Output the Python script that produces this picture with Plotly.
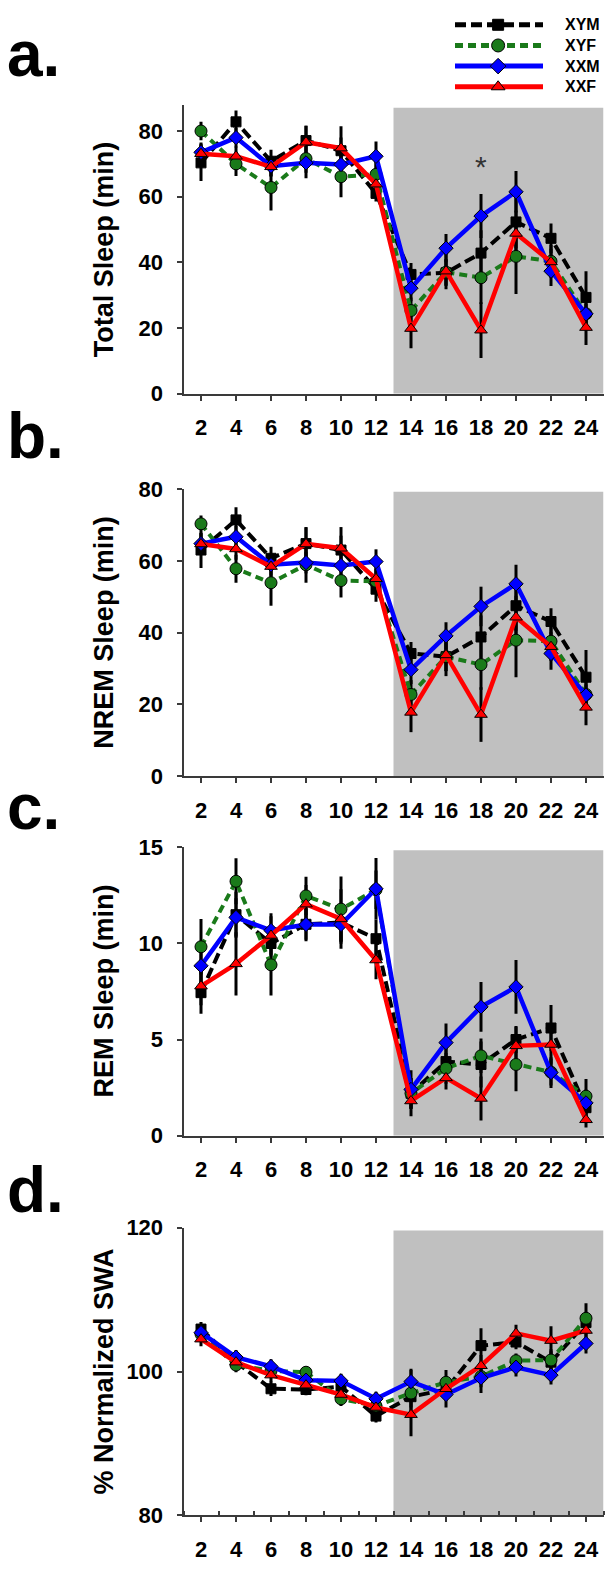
import plotly.graph_objects as go

# ---------------- data ----------------
hours = [2, 4, 6, 8, 10, 12, 14, 16, 18, 20, 22, 24]
series_names = ["XYM", "XYF", "XXM", "XXF"]

# a. Total sleep (min)
total_xym = [70.3, 82.8, 70.8, 77.1, 74.0, 61.0, 36.3, 36.8, 42.8, 52.3, 47.3, 29.3]
total_xyf = [80.0, 70.0, 62.8, 71.6, 66.1, 66.8, 25.3, 37.0, 35.3, 41.8, 40.3, 24.3]
total_xxm = [73.5, 78.0, 69.3, 70.3, 69.8, 72.3, 32.1, 44.3, 54.1, 61.5, 37.3, 24.3]
total_xxf = [73.1, 72.3, 69.1, 76.6, 74.8, 63.8, 19.8, 37.3, 19.3, 48.8, 40.1, 20.1]
total_xym_err = [5.5, 3.5, 3.5, 4.5, 4.0, 2.5, 3.5, 4.0, 7.0, 8.0, 4.5, 8.0]
total_xyf_err = [2.8, 3.7, 7.0, 6.0, 6.3, 4.0, 4.0, 4.0, 8.0, 11.5, 5.0, 4.0]
total_xxm_err = [3.0, 3.0, 3.0, 3.0, 3.5, 4.5, 4.0, 4.3, 6.7, 6.3, 4.5, 3.0]
total_xxf_err = [3.0, 3.0, 3.0, 5.0, 6.7, 4.0, 6.0, 5.5, 8.5, 7.0, 4.0, 5.3]

# b. NREM sleep (min)
nrem_xym = [63.0, 71.4, 60.7, 64.8, 63.0, 52.1, 34.2, 33.3, 38.8, 47.5, 43.1, 27.6]
nrem_xyf = [70.3, 57.8, 53.9, 58.9, 54.5, 54.3, 22.8, 33.3, 31.1, 37.9, 37.6, 22.8]
nrem_xxm = [64.8, 66.7, 58.9, 59.5, 58.7, 59.8, 29.7, 39.1, 47.3, 53.6, 34.2, 22.6]
nrem_xxf = [64.7, 63.3, 58.4, 64.7, 63.5, 55.0, 17.8, 33.8, 17.2, 44.3, 36.1, 19.2]
nrem_xym_err = [5.0, 3.5, 3.2, 4.6, 4.0, 3.5, 3.2, 4.0, 6.0, 7.0, 3.7, 7.6]
nrem_xyf_err = [2.3, 3.9, 6.4, 5.0, 4.7, 3.5, 4.0, 4.0, 7.0, 10.3, 4.0, 4.0]
nrem_xxm_err = [3.0, 3.0, 3.0, 3.0, 3.0, 3.4, 4.0, 3.8, 5.5, 5.3, 4.5, 3.0]
nrem_xxf_err = [3.0, 3.0, 3.0, 4.6, 5.9, 3.0, 5.5, 5.9, 7.6, 6.0, 4.0, 5.0]

# c. REM sleep (min)
rem_xym = [7.44, 11.5, 10.0, 11.0, 11.1, 10.25, 2.2, 3.85, 3.7, 5.0, 5.6, 1.45]
rem_xyf = [9.83, 13.24, 8.89, 12.48, 11.79, 12.8, 2.2, 3.5, 4.15, 3.7, 3.3, 2.05]
rem_xxm = [8.84, 11.36, 10.68, 10.99, 10.99, 12.85, 2.4, 4.84, 6.7, 7.74, 3.28, 1.7]
rem_xxf = [7.78, 8.94, 10.42, 12.05, 11.28, 9.14, 1.8, 3.0, 1.93, 4.67, 4.74, 0.82]
rem_xym_err = [1.1, 1.2, 1.0, 0.8, 1.0, 1.0, 0.8, 0.8, 1.2, 0.7, 1.2, 0.8]
rem_xyf_err = [1.45, 1.2, 1.6, 1.0, 1.7, 1.0, 0.8, 0.8, 0.9, 1.4, 0.7, 0.9]
rem_xxm_err = [1.0, 1.0, 0.9, 0.87, 1.0, 1.6, 1.0, 1.0, 1.3, 1.4, 0.8, 0.7]
rem_xxf_err = [1.0, 1.65, 1.0, 1.0, 1.55, 1.0, 0.8, 0.6, 1.15, 1.0, 1.0, 0.4]

# d. % Normalized SWA
swa_xym = [105.9, 101.3, 97.6, 97.5, 97.9, 93.8, 96.5, 97.5, 103.6, 104.1, 101.3, 106.8]
swa_xyf = [105.2, 100.9, 100.1, 99.9, 96.2, 95.2, 97.0, 98.5, 99.3, 101.5, 101.6, 107.4]
swa_xxm = [105.4, 102.0, 100.7, 98.8, 98.7, 96.2, 98.6, 96.8, 99.1, 100.6, 99.5, 103.9]
swa_xxf = [104.5, 101.3, 99.5, 98.1, 96.8, 95.0, 94.0, 97.6, 100.8, 105.3, 104.3, 105.7]
swa_xym_err = [1.0, 1.0, 1.0, 0.8, 1.0, 0.9, 1.5, 1.5, 2.4, 1.0, 1.5, 1.5]
swa_xyf_err = [1.0, 1.0, 1.0, 0.8, 1.0, 1.0, 3.2, 1.7, 1.5, 1.0, 1.5, 2.1]
swa_xxm_err = [1.0, 1.0, 1.0, 1.0, 1.0, 1.0, 1.8, 1.8, 2.1, 1.3, 1.3, 1.4]
swa_xxf_err = [1.0, 1.0, 1.0, 1.0, 1.0, 1.0, 3.0, 1.5, 1.5, 1.2, 2.0, 1.5]

panel_letters = ["a.", "b.", "c.", "d."]
y_titles = ["Total Sleep (min)", "NREM Sleep (min)", "REM Sleep (min)", "% Normalized SWA"]
y_ranges = [[0, 88], [0, 80], [0, 15], [80, 120]]
y_dticks = [20, 20, 5, 20]
x_range = [1, 25]
dark_start, dark_end = 13, 25
star_hour, star_value = 18, 68

panels = [
    [(total_xym, total_xym_err), (total_xyf, total_xyf_err), (total_xxm, total_xxm_err), (total_xxf, total_xxf_err)],
    [(nrem_xym, nrem_xym_err), (nrem_xyf, nrem_xyf_err), (nrem_xxm, nrem_xxm_err), (nrem_xxf, nrem_xxf_err)],
    [(rem_xym, rem_xym_err), (rem_xyf, rem_xyf_err), (rem_xxm, rem_xxm_err), (rem_xxf, rem_xxf_err)],
    [(swa_xym, swa_xym_err), (swa_xyf, swa_xyf_err), (swa_xxm, swa_xxm_err), (swa_xxf, swa_xxf_err)],
]

# ---------------- styles ----------------
W, H = 610, 1571
FONT = "Liberation Sans, Arial, sans-serif"
AXC = "#3a3a3a"
styles = [
    dict(color="black", dash="11px,5px", symbol="square", size=10, width=4),
    dict(color="#1a7a1a", dash="8px,5px", symbol="circle", size=12, width=4),
    dict(color="#0000ff", dash="solid", symbol="diamond", size=11, width=4.5),
    dict(color="#ff0000", dash="solid", symbol="triangle-up", size=11, width=4.5),
]

def px_y(p):
    return 1 - p / H

def px_x(p):
    return p / W

x_dom = [px_x(183.5), px_x(603.5)]
y_doms_px = [(94.3, 387.7), (484.7, 776.7), (849.0, 1141.7), (1235.3, 1527.7)]
label_baselines = [77, 465, 842, 1232]

fig = go.Figure()
layout = dict(
    width=W, height=H,
    margin=dict(l=0, r=0, t=0, b=0),
    paper_bgcolor="white", plot_bgcolor="white",
    showlegend=False,
    font=dict(family=FONT, color="black"),
    shapes=[], annotations=[],
)

for i, panel in enumerate(panels):
    n = i + 1
    xa = "x" if n == 1 else f"x{n}"
    ya = "y" if n == 1 else f"y{n}"
    xkey = "xaxis" if n == 1 else f"xaxis{n}"
    ykey = "yaxis" if n == 1 else f"yaxis{n}"
    top, bot = y_doms_px[i]

    xaxis = dict(
        domain=x_dom, range=x_range, anchor=ya,
        tickmode="linear", tick0=2, dtick=2,
        ticks="outside", ticklen=5, tickwidth=2, tickcolor=AXC,
        showline=True, linecolor=AXC, linewidth=2,
        showgrid=False, zeroline=False,
        tickfont=dict(size=22, family=FONT, weight="bold", color="black"),
        ticklabelstandoff=8,
    )
    if n == 4:
        xaxis["minor"] = dict(ticks="inside", ticklen=4, tickwidth=2, tickcolor=AXC,
                              tickmode="linear", tick0=1, dtick=2, showgrid=False)
    yaxis = dict(
        domain=[px_y(bot), px_y(top)], range=y_ranges[i], anchor=xa,
        tickmode="linear", tick0=y_ranges[i][0], dtick=y_dticks[i],
        ticks="outside", ticklen=5, tickwidth=2, tickcolor=AXC,
        showline=True, linecolor=AXC, linewidth=2,
        showgrid=False, zeroline=False,
        tickfont=dict(size=22, family=FONT, weight="bold", color="black"),
        ticklabelstandoff=9,
    )
    layout[xkey] = xaxis
    layout[ykey] = yaxis

    # dark phase shading
    layout["shapes"].append(dict(
        type="rect", xref=xa, yref=f"{ya} domain",
        x0=dark_start, x1=dark_end, y0=0, y1=0.99,
        fillcolor="#c0c0c0", line=dict(width=0), layer="below",
    ))

    # error bars first (behind all lines)
    for (vals, errs), st in zip(panel, styles):
        fig.add_trace(go.Scatter(
            x=hours, y=vals, xaxis=xa, yaxis=ya, mode="markers",
            marker=dict(size=1, color="rgba(0,0,0,0)"),
            error_y=dict(type="data", array=errs, visible=True,
                         color="black", thickness=3, width=0),
            hoverinfo="skip",
        ))
    for (vals, errs), st, name in zip(panel, styles, series_names):
        fig.add_trace(go.Scatter(
            x=hours, y=vals, xaxis=xa, yaxis=ya, mode="lines+markers", name=name,
            line=dict(color=st["color"], dash=st["dash"], width=st["width"]),
            marker=dict(symbol=st["symbol"], size=st["size"], color=st["color"],
                        line=dict(color="black", width=1)),
        ))

    # panel letter
    layout["annotations"].append(dict(
        text=f"<b>{panel_letters[i]}</b>", xref="paper", yref="paper",
        x=px_x(5), y=px_y(label_baselines[i] + 4), xanchor="left", yanchor="bottom",
        showarrow=False, font=dict(size=64, family=FONT, color="black"),
    ))
    # y title
    layout["annotations"].append(dict(
        text=f"<b>{y_titles[i]}</b>", xref="paper", yref="paper",
        x=px_x(104), y=px_y((top + bot) / 2), xanchor="center", yanchor="middle",
        textangle=-90, showarrow=False, font=dict(size=27, family=FONT, color="black"),
    ))

# significance asterisk
layout["annotations"].append(dict(
    text="*", xref="x", yref="y", x=star_hour, y=star_value,
    xanchor="center", yanchor="middle", yshift=4,
    showarrow=False, font=dict(size=30, family=FONT, color="#333333"),
))

# ---------------- custom legend ----------------
legend_rows = [0, 1, 2, 3]
layout["xaxis5"] = dict(domain=[px_x(455), px_x(543)], range=[0, 1], anchor="y5",
                        visible=False, fixedrange=True)
layout["yaxis5"] = dict(domain=[px_y(85), px_y(5)], range=[3.429, -0.381], anchor="x5",
                        visible=False, fixedrange=True)
for row, st, name in zip(legend_rows, styles, series_names):
    fig.add_trace(go.Scatter(
        x=[0, 1], y=[row, row], xaxis="x5", yaxis="y5", mode="lines",
        line=dict(color=st["color"], dash=st["dash"], width=5),
        hoverinfo="skip",
    ))
    fig.add_trace(go.Scatter(
        x=[0.49], y=[row], xaxis="x5", yaxis="y5", mode="markers",
        marker=dict(symbol=st["symbol"], size=st["size"] + 1, color=st["color"],
                    line=dict(color="black", width=1)),
        hoverinfo="skip",
    ))
    layout["annotations"].append(dict(
        text=f"<b>{name}</b>", xref="paper", yref="y5", x=px_x(563), y=row,
        xanchor="left", yanchor="middle", showarrow=False,
        font=dict(size=16, family=FONT, color="black"),
    ))

fig.update_layout(**layout)
fig.write_html(
    "out.html",
    config={"displayModeBar": False},
    post_script="document.body.style.margin='0';document.body.style.padding='0';"
                "document.documentElement.style.overflow='hidden';",
)
